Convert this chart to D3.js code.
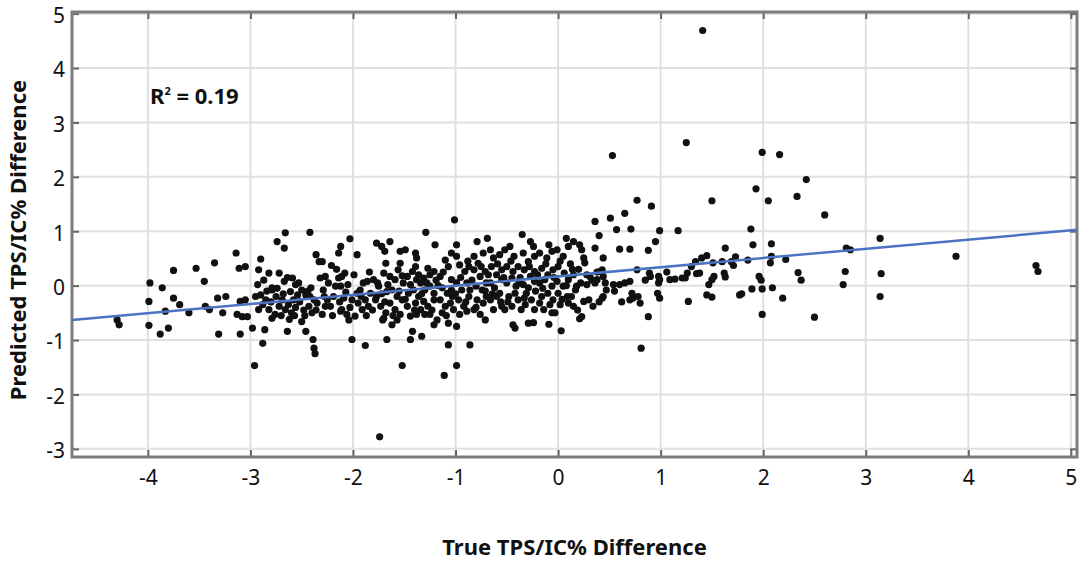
<!DOCTYPE html>
<html>
<head>
<meta charset="utf-8">
<script src="https://cdn.jsdelivr.net/npm/d3@7"></script>
<style>
  html, body { margin: 0; padding: 0; background: #fff; }
  svg { display: block; }
</style>
</head>
<body>
<svg id="chart" width="1079" height="562"></svg>
<script>
// ---------------- data ----------------
const xTicks = [-4, -3, -2, -1, 0, 1, 2, 3, 4, 5];
const yTicks = [-3, -2, -1, 0, 1, 2, 3, 4, 5];
const xDomain = [-4.74, 5.06];
const yDomain = [-3.15, 5.03];
const xTitle = "True TPS/IC% Difference";
const yTitle = "Predicted TPS/IC% Difference";
const r2Label = ["R", "2", " = 0.19"];
const fitSlope = 0.169;
const fitIntercept = 0.17;

// [true difference, predicted difference]
const points = [
[-4.30,-0.63],[-4.28,-0.72],[-3.98,0.05],[-3.99,-0.29],[-3.99,-0.73],[-3.86,-0.04],[-3.88,-0.89],[-3.80,-0.78],[-3.75,0.28],[-3.75,-0.23],
[-3.83,-0.47],[-3.69,-0.35],[-3.60,-0.50],[-3.53,0.32],[-3.45,0.08],[-3.44,-0.38],[-3.40,-0.44],[-3.35,0.42],[-3.31,-0.89],[-3.32,-0.23],
[-3.24,-0.20],[-3.27,-0.50],[-3.14,0.60],[-3.11,0.32],[-3.05,0.35],[-3.10,-0.29],[-3.13,-0.53],[-3.08,-0.57],[-3.03,-0.57],[-3.10,-0.89],
[-2.98,-0.78],[-2.96,-1.47],[-2.90,0.49],[-2.92,0.29],[-2.93,0.02],[-2.88,-1.06],[-2.86,-0.81],[-2.82,0.23],[-2.79,-0.04],[-2.72,0.23],
[-2.74,0.81],[-2.67,0.69],[-2.66,0.97],[-2.67,0.08],[-2.59,0.14],[-2.64,-0.84],[-2.42,0.98],[-2.36,0.57],[-2.33,0.44],[-2.32,0.14],
[-2.46,-0.84],[-2.39,-0.99],[-2.38,-1.15],[-2.37,-1.25],[-2.50,-0.66],[-3.05,-0.26],[-2.95,-0.20],[-2.92,-0.44],
[-2.90,-0.17],[-2.85,-0.26],[-2.82,-0.44],[-2.79,-0.60],[-2.76,-0.53],[-2.72,-0.38],[-2.69,-0.26],[-2.66,-0.44],[-2.61,-0.11],[-2.58,-0.26],
[-2.54,-0.17],[-2.50,-0.08],[-2.46,-0.17],[-2.41,-0.04],[-2.38,-0.26],[-2.35,-0.32],[-2.79,-0.08],[-2.43,-0.38],
[-2.88,-0.35],[-2.84,-0.10],[-2.75,-0.20],[-2.70,-0.55],[-2.63,-0.35],[-2.60,-0.50],[-2.56,-0.40],[-2.52,-0.30],[-2.48,-0.45],[-2.44,-0.10],
[-2.40,-0.50],[-2.56,0.02],[-2.62,-0.62],
[-2.03,0.86],[-2.12,0.72],[-2.14,0.60],[-2.21,0.37],[-1.96,0.57],[-2.01,-0.99],[-1.88,-1.10],[-1.77,0.78],[-1.72,0.72],[-1.69,0.63],
[-1.64,0.81],[-1.67,-0.99],[-1.52,-1.47],[-1.74,-2.78],[-1.54,0.63],[-1.49,0.66],[-1.39,0.60],[-1.38,0.51],[-1.29,0.98],[-1.20,0.75],
[-1.44,-0.99],[-1.42,-0.84],[-1.33,-0.93],[-1.07,-1.09],[-1.11,-1.65],[-0.99,-1.47],[-0.86,-1.09],[-1.01,1.21],[-0.99,0.75],[-0.79,0.81],
[-0.69,0.87],[-0.71,-0.63],[-0.44,-0.72],[-0.42,-0.78],[-0.35,0.94],[-0.27,0.81],[-0.24,0.72],[-0.09,0.75],[-0.29,-0.69],[-0.24,-0.68],
[-0.09,-0.71],[0.03,-0.83],[0.08,0.87],
[-2.30,0.44],[-2.27,0.17],[-2.29,-0.08],[-2.25,-0.26],[-2.27,-0.38],[-2.30,-0.53],[-2.22,-0.38],[-2.19,-0.20],[-2.17,-0.01],
[-2.14,0.14],[-2.11,0.17],[-2.08,0.23],[-2.12,-0.01],[-2.09,-0.23],[-2.11,-0.44],[-2.06,-0.53],[-2.04,-0.63],[-2.01,-0.26],[-2.12,-0.47],
[-1.96,-0.14],[-1.93,-0.08],[-1.90,0.05],[-1.86,0.08],[-1.95,-0.32],[-1.91,-0.44],[-1.85,-0.38],[-1.98,-0.56],[-1.88,-0.26],[-1.83,-0.14],
[-1.80,0.11],[-1.75,-0.01],[-1.70,0.23],[-1.68,0.41],[-1.78,-0.26],[-1.73,-0.38],[-1.68,-0.50],[-1.71,-0.63],[-1.77,-0.20],[-1.67,-0.11],[-1.70,-0.60],
[-1.64,0.17],[-1.59,0.11],[-1.54,0.41],[-1.56,0.29],[-1.62,-0.08],[-1.57,-0.20],[-1.52,-0.26],[-1.64,-0.32],[-1.59,-0.44],[-1.54,-0.53],[-1.62,-0.72],[-1.57,-0.63],[-1.51,0.05],
[-1.47,0.17],[-1.42,0.26],[-1.38,0.11],[-1.46,-0.14],[-1.41,-0.08],[-1.36,-0.20],[-1.47,-0.38],[-1.39,-0.32],[-1.44,-0.56],[-1.34,-0.44],[-1.38,-0.53],[-1.34,0.05],[-1.39,0.35],
[-1.31,0.14],[-1.27,0.32],[-1.25,0.20],[-1.21,0.26],[-1.30,-0.08],[-1.25,-0.01],[-1.21,-0.14],[-1.31,-0.29],[-1.27,-0.38],[-1.21,-0.26],[-1.25,-0.53],[-1.18,-0.63],[-1.21,-0.72],[-1.30,-0.53],
[-1.15,0.17],[-1.10,0.47],[-1.07,0.35],[-1.04,0.11],[-1.13,-0.04],[-1.08,-0.14],[-1.04,-0.08],[-1.15,-0.26],[-1.10,-0.38],[-1.05,-0.32],[-1.13,-0.50],[-1.07,-0.69],[-1.02,-0.44],[-1.04,0.60],
[-0.99,0.54],[-0.96,0.38],[-0.91,0.26],[-0.87,0.35],[-0.99,0.05],[-0.94,-0.08],[-0.89,0.05],[-0.97,-0.26],[-0.92,-0.38],[-0.87,-0.20],[-0.96,-0.53],[-0.89,-0.47],[-0.99,-0.75],[-0.86,-0.08],
[-0.82,0.54],[-0.78,0.41],[-0.73,0.60],[-0.82,0.29],[-0.76,0.17],[-0.71,0.26],[-0.80,-0.01],[-0.74,-0.08],[-0.70,0.05],[-0.79,-0.26],[-0.73,-0.32],[-0.82,-0.44],[-0.76,-0.53],[-0.70,-0.20],
[-0.66,0.66],[-0.63,0.51],[-0.57,0.57],[-0.65,0.35],[-0.60,0.20],[-0.55,0.29],[-0.66,0.05],[-0.62,-0.04],[-0.55,0.11],[-0.66,-0.26],[-0.60,-0.20],[-0.55,-0.38],[-0.63,-0.44],[-0.57,-0.14],
[-0.52,0.66],[-0.47,0.72],[-0.43,0.54],[-0.50,0.35],[-0.44,0.26],[-0.39,0.35],[-0.50,0.05],[-0.45,0.14],[-0.41,-0.01],[-0.48,-0.20],[-0.42,-0.14],[-0.52,-0.44],[-0.45,-0.38],[-0.39,-0.26],
[-0.34,0.60],[-0.29,0.44],[-0.23,0.54],[-0.33,0.29],[-0.27,0.17],[-0.23,0.26],[-0.34,0.02],[-0.29,-0.04],[-0.23,0.08],[-0.33,-0.23],[-0.26,-0.26],[-0.36,-0.44],[-0.23,-0.44],[-0.31,-0.14],
[-0.18,0.60],[-0.11,0.51],[-0.06,0.63],[-0.16,0.32],[-0.10,0.20],[-0.05,0.29],[-0.18,0.05],[-0.13,0.11],[-0.06,-0.01],[-0.16,-0.20],[-0.10,-0.14],[-0.05,-0.26],[-0.14,-0.44],[-0.06,-0.50],[-0.18,-0.32],
[-0.01,0.66],[0.05,0.54],[0.10,0.72],[0.00,0.35],[0.06,0.23],[-0.01,0.08],[0.05,-0.01],[0.10,0.11],[0.00,-0.14],[0.09,-0.20],[0.02,-0.35],[0.10,-0.32],[-0.03,-0.50],
[-2.24,0.05],[-2.20,-0.55],[-2.16,0.30],[-2.28,-0.20],[-2.05,0.02],[-2.03,-0.40],[-2.07,-0.12],[-2.13,-0.30],
[-1.99,0.20],[-1.92,-0.20],[-1.87,-0.55],[-1.84,0.25],[-1.81,-0.45],[-1.76,0.05],[-1.72,-0.15],[-1.69,-0.30],
[-1.66,0.02],[-1.61,-0.55],[-1.55,-0.10],[-1.52,0.18],[-1.49,-0.25],[-1.44,0.02],[-1.40,-0.45],[-1.36,0.20],
[-1.33,-0.15],[-1.28,0.05],[-1.23,-0.45],[-1.19,0.10],[-1.17,0.00],[-1.12,0.25],[-1.09,-0.55],[-1.03,-0.20],
[-1.00,-0.15],[-0.95,0.15],[-0.90,-0.30],[-0.88,0.45],[-0.84,0.10],[-0.80,-0.40],[-0.75,0.35],[-0.71,-0.10],
[-0.68,0.20],[-0.64,-0.15],[-0.59,0.40],[-0.56,-0.30],[-0.53,0.15],[-0.49,-0.30],[-0.46,0.45],[-0.38,0.05],
[-0.37,0.15],[-0.32,-0.35],[-0.28,0.35],[-0.22,-0.10],[-0.20,0.20],[-0.15,-0.05],[-0.12,0.40],[-0.08,-0.35],
[-0.04,0.15],[0.02,0.45],[0.04,-0.25],[0.08,0.00],
[-2.87,0.10],[-2.80,-0.30],[-2.74,-0.05],[-2.68,-0.15],[-2.64,0.15],[-2.57,-0.55],[-2.53,0.05],[-2.47,-0.55],[-2.42,-0.20],[-2.36,-0.45],
[0.53,2.39],[1.25,2.63],[1.99,2.45],[2.16,2.41],[2.42,1.95],[1.93,1.78],[2.05,1.56],[2.33,1.64],[1.50,1.56],[0.77,1.57],
[0.91,1.46],[0.65,1.33],[0.51,1.24],[0.36,1.18],[0.57,1.03],[0.71,1.04],[0.99,1.01],[1.17,1.01],[0.40,0.92],[1.88,1.04],
[1.90,0.75],[2.08,0.77],[0.95,0.81],[0.88,0.65],[0.60,0.67],[0.70,0.67],[0.36,0.69],[0.44,0.51],[1.63,0.69],[0.15,0.81],
[0.21,0.75],[0.23,0.66],[0.25,0.51],[0.26,0.42],[1.34,0.44],[1.40,0.51],[1.45,0.55],[1.51,0.42],[1.60,0.44],[1.69,0.44],
[1.73,0.53],[1.71,0.37],[2.08,0.54],[2.07,0.42],[2.22,0.48],[2.34,0.24],[2.37,0.10],[2.50,-0.58],[2.19,-0.23],[2.09,-0.04],
[1.99,-0.06],[1.89,-0.06],[1.96,0.17],[1.98,0.10],[1.99,-0.53],[1.79,-0.15],[1.62,0.23],[1.63,0.16],[1.45,-0.17],[1.50,-0.21],
[1.47,0.02],[1.50,0.11],[1.52,0.17],[1.27,-0.29],[1.24,0.14],[1.26,0.23],[1.35,0.22],[1.09,0.11],[1.14,0.12],[1.21,0.14],
[0.98,0.17],[0.98,0.05],[0.99,-0.23],[0.97,-0.14],[0.89,0.23],[0.90,0.17],[0.88,-0.57],[0.81,-1.15],[0.77,0.29],[0.78,-0.20],
[0.80,-0.32],[0.73,-0.23],[0.72,-0.14],[0.60,0.02],[0.65,0.05],[0.70,0.08],[0.43,0.29],[0.44,0.17],[0.46,0.05],[0.47,-0.08],
[0.44,-0.20],[0.43,-0.23],[0.31,0.17],[0.36,0.05],[0.28,0.02],[0.30,-0.26],[0.34,-0.38],[0.25,-0.29],[0.21,-0.61],[0.15,-0.38],
[0.17,-0.08],[0.18,-0.01],
[2.60,1.30],[2.81,0.69],[2.85,0.66],[2.80,0.26],[2.78,0.02],[3.14,0.87],[3.15,0.22],[3.14,-0.20],[3.88,0.54],[4.66,0.37],[4.68,0.26],[1.41,4.69],
[0.54,0.02],[0.70,-0.26],[0.23,-0.57],[0.15,0.20],[0.28,0.20],[0.41,0.26],[0.38,0.11],[0.99,0.11],
[0.12,0.40],[0.14,0.30],[0.20,0.30],[0.22,0.05],[0.33,0.10],[0.38,0.25],[0.40,-0.30],[0.13,-0.20],[0.19,-0.45],[1.38,0.23],
[0.55,-0.10],[0.62,-0.30],[1.06,0.25],[1.30,0.35],[1.85,0.47],[1.77,-0.17],[0.85,0.10]
];

// ---------------- chart ----------------
const width = 1079, height = 562;
const margin = { top: 12, right: 2, bottom: 105, left: 72 };
const svg = d3.select("#chart");
const fontFamily = "'Noto Sans', sans-serif";

const x = d3.scaleLinear().domain(xDomain).range([margin.left, width - margin.right]);
const y = d3.scaleLinear().domain(yDomain).range([height - margin.bottom, margin.top]);

const plotL = margin.left, plotR = width - margin.right;
const plotT = margin.top, plotB = height - margin.bottom;

// grid
const grid = svg.append("g").attr("stroke", "#e0e0e0").attr("stroke-width", 2);
grid.selectAll("line.v").data(xTicks).join("line").attr("class", "v")
  .attr("x1", d => x(d)).attr("x2", d => x(d)).attr("y1", plotT).attr("y2", plotB);
grid.selectAll("line.h").data(yTicks).join("line").attr("class", "h")
  .attr("y1", d => y(d)).attr("y2", d => y(d)).attr("x1", plotL).attr("x2", plotR);

// axes (inward ticks)
const tickLen = 7;
function styleAxis(g) {
  g.select(".domain").remove();
  g.attr("font-family", fontFamily).attr("font-size", 21);
  g.selectAll(".tick line").attr("stroke", "#666").attr("stroke-width", 2);
  g.selectAll(".tick text").attr("fill", "#111");
}
svg.append("g").attr("transform", `translate(0,${plotB})`)
  .call(d3.axisBottom(x).tickValues(xTicks).tickFormat(d => String(d)).tickSizeInner(-tickLen).tickSizeOuter(0).tickPadding(13))
  .call(styleAxis);
svg.append("g").attr("transform", `translate(${plotL},0)`)
  .call(d3.axisLeft(y).tickValues(yTicks).tickFormat(d => String(d)).tickSizeInner(-tickLen).tickSizeOuter(0).tickPadding(7))
  .call(styleAxis)
  .call(g => g.selectAll(".tick text").attr("dy", "0.42em"));
svg.append("g").attr("transform", `translate(0,${plotT})`)
  .call(d3.axisTop(x).tickValues(xTicks).tickFormat("").tickSizeInner(-tickLen).tickSizeOuter(0))
  .call(styleAxis);
svg.append("g").attr("transform", `translate(${plotR},0)`)
  .call(d3.axisRight(y).tickValues(yTicks).tickFormat("").tickSizeInner(-tickLen).tickSizeOuter(0))
  .call(styleAxis);

// frame
svg.append("rect")
  .attr("x", plotL).attr("y", plotT)
  .attr("width", plotR - plotL).attr("height", plotB - plotT)
  .attr("fill", "none").attr("stroke", "#7c7c7c").attr("stroke-width", 3);

// points
svg.append("g").selectAll("circle").data(points).join("circle")
  .attr("cx", d => x(d[0])).attr("cy", d => y(d[1]))
  .attr("r", 3.6).attr("fill", "#111");

// fit line
const lineX = xDomain;
svg.append("line")
  .attr("x1", x(lineX[0])).attr("y1", y(fitIntercept + fitSlope * lineX[0]))
  .attr("x2", x(lineX[1])).attr("y2", y(fitIntercept + fitSlope * lineX[1]))
  .attr("stroke", "#4a73c2").attr("stroke-width", 2.5);

// R² label
const r2 = svg.append("text")
  .attr("x", 150).attr("y", 104)
  .attr("font-family", fontFamily).attr("font-weight", "bold")
  .attr("font-size", 22).attr("fill", "#111");
r2.append("tspan").text(r2Label[0]);
r2.append("tspan").attr("font-size", 11).attr("dy", -9).text(r2Label[1]);
r2.append("tspan").attr("dy", 9).text(r2Label[2]);

// axis titles
svg.append("text")
  .attr("x", (plotL + plotR) / 2).attr("y", 555)
  .attr("text-anchor", "middle")
  .attr("font-family", fontFamily).attr("font-weight", "bold")
  .attr("font-size", 22).attr("fill", "#111")
  .text(xTitle);
svg.append("text")
  .attr("transform", `translate(26,${240}) rotate(-90)`)
  .attr("text-anchor", "middle")
  .attr("font-family", fontFamily).attr("font-weight", "bold")
  .attr("font-size", 22).attr("fill", "#111")
  .text(yTitle);
</script>
</body>
</html>
